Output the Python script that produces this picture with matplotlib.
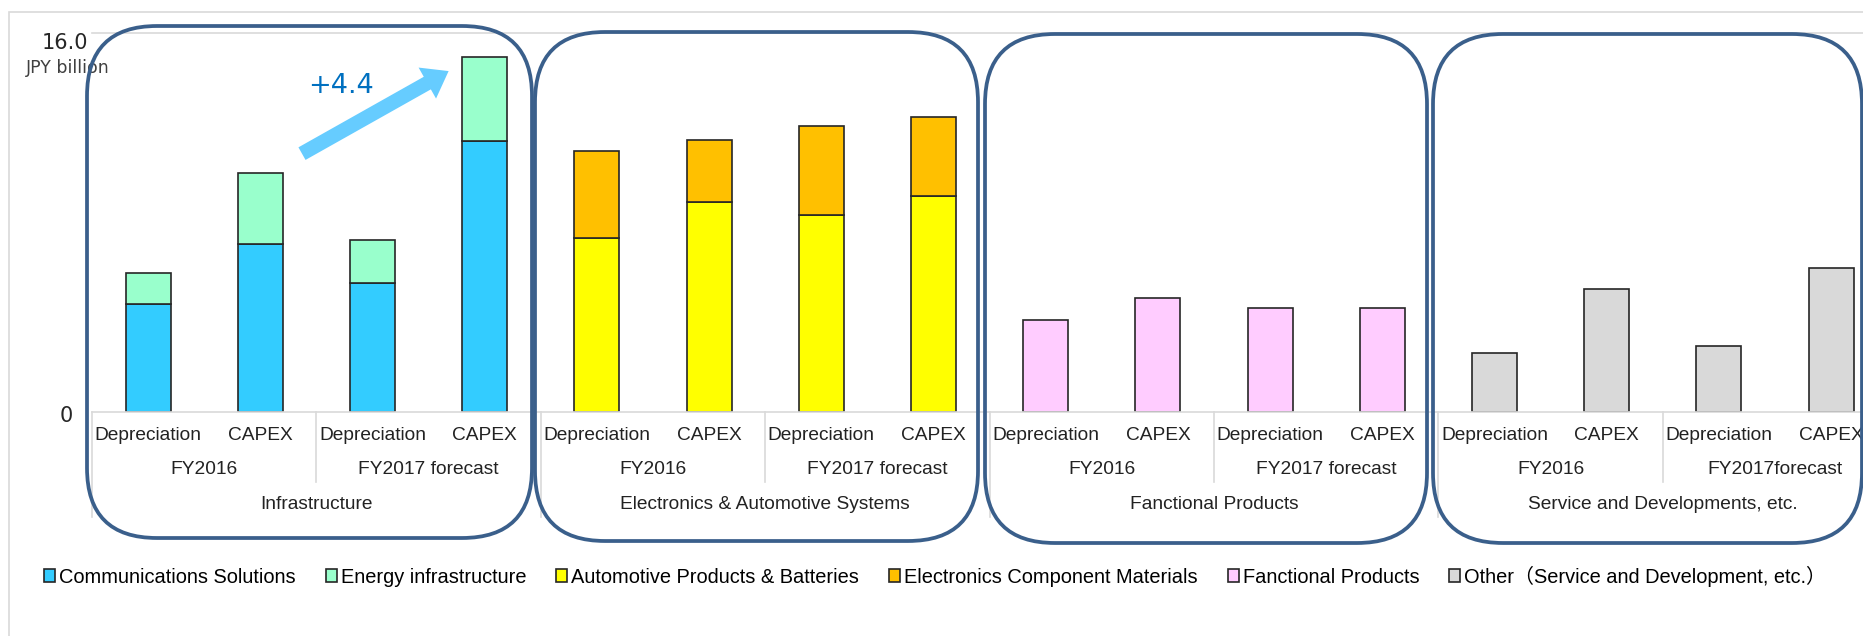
import numpy as np
import matplotlib
matplotlib.use("Agg")
import matplotlib.pyplot as plt
from matplotlib.patches import FancyBboxPatch, Rectangle
from matplotlib.transforms import IdentityTransform

plt.rcParams['font.family'] = ['Liberation Sans', 'Noto Sans CJK JP']

# --- data (JPY billion) ---
segments = ["Infrastructure", "Electronics & Automotive Systems",
            "Fanctional Products", "Service and Developments, etc."]
periods = [["FY2016", "FY2017 forecast"],
           ["FY2016", "FY2017 forecast"],
           ["FY2016", "FY2017 forecast"],
           ["FY2016", "FY2017forecast"]]
items = ["Depreciation", "CAPEX"]

comms = [4.56, 7.09, 5.45, 11.44]
energy = [1.31, 3.00, 1.81, 3.55]
automotive = [7.34, 8.86, 8.32, 9.12]
electronics = [3.68, 2.62, 3.75, 3.33]
functional = [3.88, 4.81, 4.39, 4.39]
other = [2.49, 5.19, 2.79, 6.06]

series_names = ["Communications Solutions", "Energy infrastructure",
                "Automotive Products & Batteries", "Electronics Component Materials",
                "Fanctional Products", "Other（Service and Development, etc.）"]
colors = ["#33CCFF", "#99FFCC", "#FFFF00", "#FFC000", "#FFCCFF", "#D9D9D9"]

W, H, DPI = 1863, 636, 100
fig = plt.figure(figsize=(W / DPI, H / DPI), dpi=DPI)

# outer chart frame (runs off the right / bottom edge like the source)
fig.patches.append(Rectangle((9, -10), 1900, H - 12 + 10, transform=IdentityTransform(),
                             fill=False, edgecolor="#D9D9D9", lw=1.2))

# axes: one category slot = 112.2 px, plot extends beyond right edge
left, right, top, bottom = 92, 92 + 16 * 112.2, 33, 412
ax = fig.add_axes([left / W, 1 - bottom / H, (right - left) / W, (bottom - top) / H])
ax.set_xlim(-0.5, 15.5)
ax.set_ylim(0, 16)
for s in ax.spines.values():
    s.set_visible(False)
ax.set_xticks([])
ax.set_yticks([])
ax.axhline(16, color="#D9D9D9", lw=1.2, clip_on=False)
ax.axhline(0, color="#D9D9D9", lw=1.2, clip_on=False)

bw = 0.4
ec = "#262626"
x0 = np.arange(0, 4)
h = []
h.append(ax.bar(x0, comms, bw, color=colors[0], edgecolor=ec, lw=1.2))
h.append(ax.bar(x0, energy, bw, bottom=comms, color=colors[1], edgecolor=ec, lw=1.2))
h.append(ax.bar(x0 + 4, automotive, bw, color=colors[2], edgecolor=ec, lw=1.2))
h.append(ax.bar(x0 + 4, electronics, bw, bottom=automotive, color=colors[3], edgecolor=ec, lw=1.2))
h.append(ax.bar(x0 + 8, functional, bw, color=colors[4], edgecolor=ec, lw=1.2))
h.append(ax.bar(x0 + 12, other, bw, color=colors[5], edgecolor=ec, lw=1.2))

# multi-level category axis
tr = ax.get_xaxis_transform()
lab = dict(fontsize=13.8, color="#222222", ha="center", va="center")
for g, seg in enumerate(segments):
    for p in range(2):
        for k, it in enumerate(items):
            ax.text(g * 4 + p * 2 + k, -0.063, it, transform=tr, **lab)
        ax.text(g * 4 + p * 2 + 0.5, -0.153, periods[g][p], transform=tr, **lab)
    ax.text(g * 4 + 1.5, -0.245, seg, transform=tr, **lab)
for xb in np.arange(-0.5, 16, 4):
    ax.plot([xb, xb], [0, -0.277], transform=tr, color="#D9D9D9", lw=1.2, clip_on=False)
for xb in np.arange(1.5, 16, 4):
    ax.plot([xb, xb], [0, -0.185], transform=tr, color="#D9D9D9", lw=1.2, clip_on=False)

# value axis labels
fig.text(88 / W, 1 - 33 / H, "16.0", family="DejaVu Sans", fontsize=15,
         color="#262626", ha="right", va="top")
fig.text(26 / W, 1 - 68 / H, "JPY billion", family="DejaVu Sans", fontsize=12.5,
         color="#404040", ha="left", va="center")
ax.text(-0.67, -0.17, "0", transform=ax.transData, fontsize=15, color="#262626",
        family="DejaVu Sans", ha="right", va="center")

# rounded segment frames
boxes = [(87, 26, 532, 538), (535, 32, 978, 541), (985, 34, 1427, 543), (1433, 34, 1862, 543)]
for x1, y1, x2, y2 in boxes:
    fig.patches.append(FancyBboxPatch((x1, H - y2), x2 - x1, y2 - y1,
                                      boxstyle="round,pad=0,rounding_size=70",
                                      transform=IdentityTransform(), fill=False,
                                      edgecolor="#3A5F8B", lw=2.7, zorder=5))

# growth arrow
ax.annotate("", xy=(2.7, 14.45), xytext=(1.35, 10.85),
            arrowprops=dict(arrowstyle="simple,head_length=1.1,head_width=1.6,tail_width=0.65",
                            color="#66CCFF", mutation_scale=16, lw=0))
ax.text(1.72, 13.76, "+4.4", color="#0070C0", fontsize=19.5, family="DejaVu Sans",
        ha="center", va="center")

fig.legend(h, series_names, loc="center left", bbox_to_anchor=(44 / W, 1 - 576 / H),
           ncol=6, frameon=False, fontsize=14.4, handlelength=0.55, handleheight=0.55,
           handletextpad=0.2, columnspacing=1.5, borderaxespad=0, borderpad=0)

fig.savefig("out.png", dpi=DPI)
